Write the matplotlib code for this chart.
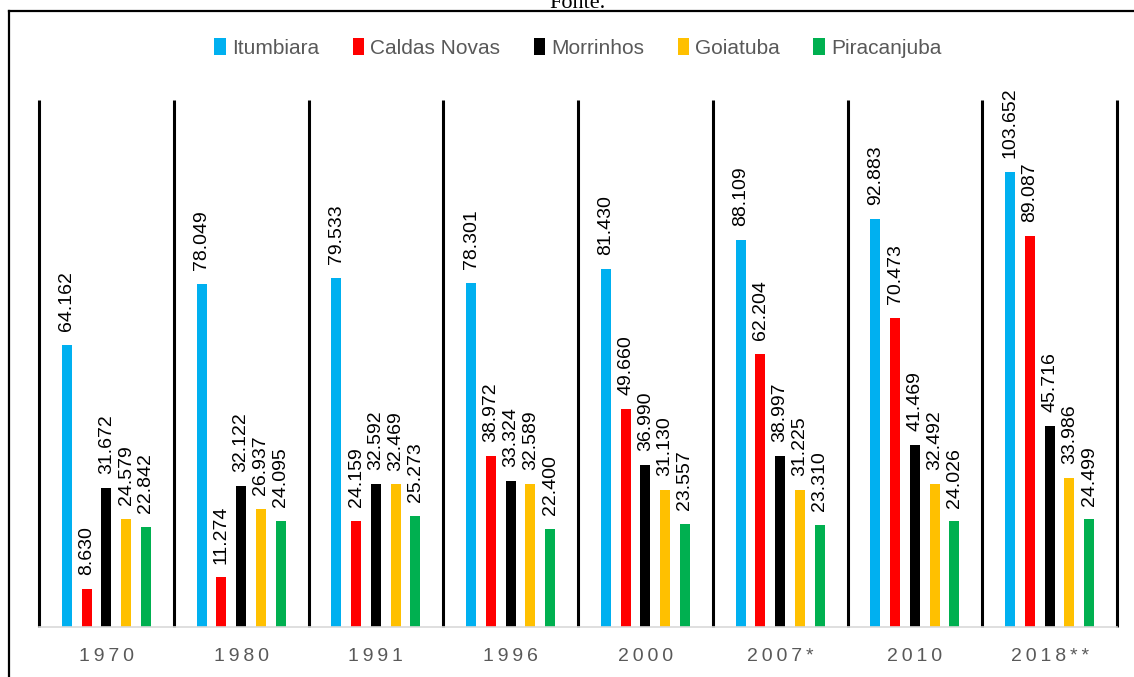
import numpy as np
import matplotlib.pyplot as plt
from matplotlib.lines import Line2D

# données
anos = ["1970", "1980", "1991", "1996", "2000", "2007*", "2010", "2018**"]
cidades = ["Itumbiara", "Caldas Novas", "Morrinhos", "Goiatuba", "Piracanjuba"]
itumbiara = [64.162, 78.049, 79.533, 78.301, 81.430, 88.109, 92.883, 103.652]
caldas_novas = [8.630, 11.274, 24.159, 38.972, 49.660, 62.204, 70.473, 89.087]
morrinhos = [31.672, 32.122, 32.592, 33.324, 36.990, 38.997, 41.469, 45.716]
goiatuba = [24.579, 26.937, 32.469, 32.589, 31.130, 31.225, 32.492, 33.986]
piracanjuba = [22.842, 24.095, 25.273, 22.400, 23.557, 23.310, 24.026, 24.499]

series = [itumbiara, caldas_novas, morrinhos, goiatuba, piracanjuba]
cores = ["#00B0F0", "#FF0000", "#000000", "#FFC000", "#00B050"]

plt.rcParams['font.family'] = ['Liberation Sans', 'DejaVu Sans']

fig = plt.figure(figsize=(11.34, 6.77), dpi=100)
ax = fig.add_axes([39/1134, 50/677, (1117-39)/1134, 527/677])

x = np.arange(len(anos))
largura = 0.074
passo = 0.1466

for i, (nome, valores, cor) in enumerate(zip(cidades, series, cores)):
    pos = x + (i - 2) * passo
    ax.bar(pos, valores, width=largura, color=cor, label=nome)
    for px, v in zip(pos, valores):
        ax.annotate(f"{v:.3f}", (px, v), xytext=(0, 10), textcoords="offset points",
                    rotation=90, ha="center", va="bottom", fontsize=14, color="black")

# separadores verticais
for s in np.arange(-0.5, len(anos), 1.0):
    ax.plot([s, s], [0, 120], color="black", lw=2.2, solid_capstyle="butt", clip_on=False)

ax.set_xlim(-0.5, len(anos) - 0.5)
ax.set_ylim(0, 120)
ax.set_xticks(x)
ax.set_xticklabels(["\u2009".join(a) for a in anos], fontsize=14, color="#595959")
ax.tick_params(axis="x", length=0, pad=15)
ax.set_yticks([])
for lado in ["top", "right", "left"]:
    ax.spines[lado].set_visible(False)
ax.spines["bottom"].set_color("#D9D9D9")
ax.spines["bottom"].set_linewidth(1.2)

ax.legend(loc="center", bbox_to_anchor=(0.5, (677 - 48 - 50) / 527), ncol=5, frameon=False,
          fontsize=15, labelcolor="#595959", handlelength=0.55, handleheight=0.9,
          handletextpad=0.3, columnspacing=1.6)

# moldura e texto cortado
fig.add_artist(Line2D([9/1134, 1], [1 - 11/677, 1 - 11/677], color="black", lw=1.6))
fig.add_artist(Line2D([9/1134, 9/1134], [0, 1 - 11/677], color="black", lw=1.6))
fig.text(578/1134, 1 - 3/677, "Fonte.", ha="center", va="center", fontsize=16,
         family="Liberation Serif")

fig.savefig("out.png", dpi=100)
